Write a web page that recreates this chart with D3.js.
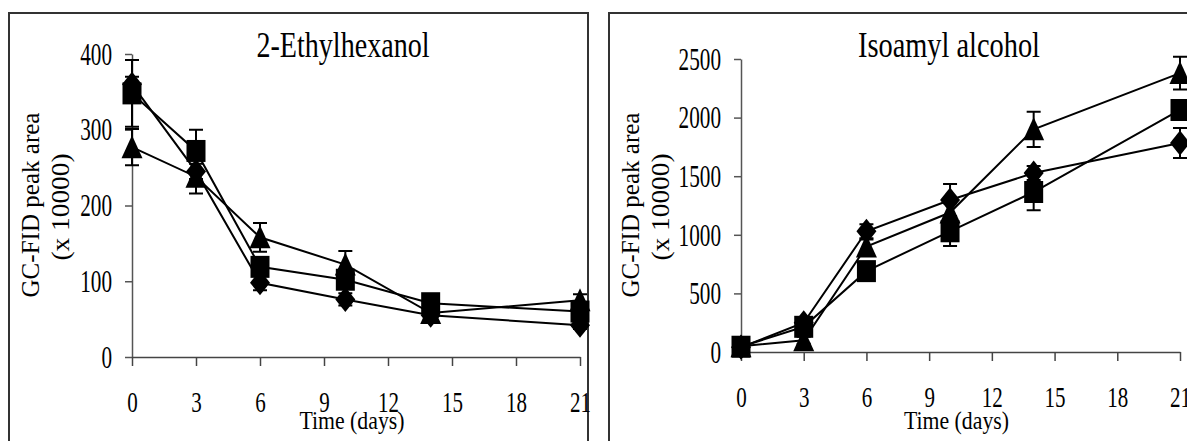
<!DOCTYPE html>
<html>
<head>
<meta charset="utf-8">
<script src="https://cdn.jsdelivr.net/npm/d3@7"></script>
<style>
  body { margin: 0; background: #fff; }
  svg { display: block; }
  text { font-family: "Liberation Serif", "Times New Roman", serif; fill: #000; }
</style>
</head>
<body>
<div id="chart"></div>
<script>
// sampling days (same for both panels)
const days = [0, 3, 6, 10, 14, 21];
const xTicks = [0, 3, 6, 9, 12, 15, 18, 21];

// 2-Ethylhexanol
const ethDiamond = [360, 245, 98, 76, 55, 42];
const ethDiamondErr = [10, 10, 10, 8, 5, 5];
const ethSquare = [348, 272, 119, 102, 71, 60];
const ethSquareErr = [44, 28, 10, 10, 8, 8];
const ethTriangle = [277, 238, 158, 122, 58, 75];
const ethTriangleErr = [24, 22, 19, 18, 5, 8];
const ethTicks = [0, 100, 200, 300, 400];

// Isoamyl alcohol
const isoDiamond = [40, 250, 1030, 1297, 1527, 1783];
const isoDiamondErr = [20, 30, 60, 136, 60, 128];
const isoSquare = [45, 215, 690, 1030, 1365, 2065];
const isoSquareErr = [20, 40, 50, 125, 155, 70];
const isoTriangle = [50, 100, 900, 1190, 1900, 2380];
const isoTriangleErr = [20, 30, 60, 80, 150, 140];
const isoTicks = [0, 500, 1000, 1500, 2000, 2500];

const W = 1187, H = 441;
const serif = "'Liberation Serif', 'Times New Roman', serif";
const svg = d3.select("#chart").append("svg")
    .attr("width", W).attr("height", H);

//marker shapes, centred on the point
function markerPath(shape) {
    if (shape === "square") return "M-9.5,-11L9.5,-11L9.5,11L-9.5,11Z";
    if (shape === "diamond") return "M0,-12.5L10,0L0,12.5L-10,0Z";
    return "M0,-12L10.5,11L-10.5,11Z";
}

function drawPanel(p) {
    //frame round the panel
    svg.append("rect")
        .attr("x", p.box[0]).attr("y", p.box[1])
        .attr("width", p.box[2]).attr("height", p.box[3])
        .attr("fill", "none").attr("stroke", "#333").attr("stroke-width", 2);

    const x = d3.scaleLinear().domain([0, 21]).range([p.x0, p.x1]);
    const y = d3.scaleLinear().domain([0, p.yMax]).range([p.y0, p.y1]);

    const g = svg.append("g");

    // y axis
    const ya = g.append("g")
        .attr("transform", "translate(" + p.x0 + ",0)")
        .call(d3.axisLeft(y).tickValues(p.yTicks).tickFormat(d3.format("d"))
            .tickSize(7).tickPadding(13).tickSizeOuter(0));
    ya.attr("font-family", null).attr("font-size", null);
    ya.select(".domain").attr("stroke", "#555").attr("stroke-width", 1.5);
    ya.selectAll(".tick line").attr("stroke", "#555").attr("stroke-width", 1.5);
    ya.selectAll("text")
        .style("font-family", serif).style("font-size", "31px")
        .attr("dy", "0.33em")
        .attr("textLength", d => String(d).length * 10.6)
        .attr("lengthAdjust", "spacingAndGlyphs");

    // x axis
    const xa = g.append("g")
        .attr("transform", "translate(0," + p.y0 + ")")
        .call(d3.axisBottom(x).tickValues(xTicks).tickSize(9).tickSizeOuter(0));
    xa.attr("font-family", null).attr("font-size", null);
    xa.select(".domain").attr("stroke", "#444").attr("stroke-width", 1.5);
    xa.selectAll(".tick line").attr("stroke", "#444").attr("stroke-width", 1.5);
    xa.selectAll("text")
        .style("font-family", serif).style("font-size", "30px")
        .attr("y", 55).attr("dy", 0)
        .attr("textLength", d => String(d).length * 10.5)
        .attr("lengthAdjust", "spacingAndGlyphs");

    // titles
    g.append("text")
        .attr("x", p.titleX).attr("y", 57)
        .attr("text-anchor", "middle")
        .style("font-family", serif).style("font-size", "35px")
        .attr("textLength", p.titleLen).attr("lengthAdjust", "spacingAndGlyphs")
        .text(p.title);

    g.append("text")
        .attr("x", (p.x0 + p.x1) / 2 - 4).attr("y", 429)
        .attr("text-anchor", "middle")
        .style("font-family", serif).style("font-size", "26px")
        .attr("textLength", 105).attr("lengthAdjust", "spacingAndGlyphs")
        .text("Time (days)");

    g.append("text")
        .attr("transform", "translate(" + (p.box[0] + 21) + ",205) rotate(-90)")
        .attr("text-anchor", "middle").attr("dominant-baseline", "central")
        .style("font-family", serif).style("font-size", "25px")
        .attr("textLength", 185).attr("lengthAdjust", "spacingAndGlyphs")
        .text("GC-FID peak area");
    g.append("text")
        .attr("transform", "translate(" + (p.box[0] + 51) + ",207) rotate(-90)")
        .attr("text-anchor", "middle").attr("dominant-baseline", "central")
        .style("font-family", serif).style("font-size", "25px")
        .attr("textLength", 107).attr("lengthAdjust", "spacingAndGlyphs")
        .text("(x 10000)");

    const line = d3.line().x(d => x(d.day)).y(d => y(d.v));

    p.series.forEach(s => {
        const pts = days.map((d, i) => ({day: d, v: s.values[i], e: s.err[i]}));
        const sg = g.append("g");

        // error bars (upper and lower)
        sg.selectAll(".err").data(pts).enter().append("path")
            .attr("class", "err")
            .attr("d", d => {
                const cx = x(d.day), t = y(d.v + d.e), b = y(d.v - d.e);
                return "M" + cx + "," + t + "V" + b +
                    "M" + (cx - 7) + "," + t + "H" + (cx + 7) +
                    "M" + (cx - 7) + "," + b + "H" + (cx + 7);
            })
            .attr("stroke", "#000").attr("stroke-width", 2).attr("fill", "none");

        sg.append("path").datum(pts)
            .attr("d", line)
            .attr("fill", "none").attr("stroke", "#000").attr("stroke-width", 2);

        sg.selectAll(".mk").data(pts).enter().append("path")
            .attr("class", "mk")
            .attr("transform", d => "translate(" + x(d.day) + "," + y(d.v) + ")")
            .attr("d", markerPath(s.shape))
            .attr("fill", "#000");
    });
}

drawPanel({
    box: [9, 13, 579, 500],
    x0: 132, x1: 580, y0: 357, y1: 54, yMax: 400, yTicks: ethTicks,
    title: "2-Ethylhexanol", titleX: 343, titleLen: 173,
    series: [
        {shape: "diamond", values: ethDiamond, err: ethDiamondErr},
        {shape: "square", values: ethSquare, err: ethSquareErr},
        {shape: "triangle", values: ethTriangle, err: ethTriangleErr}
    ]
});

drawPanel({
    box: [609, 13, 640, 500],
    x0: 741, x1: 1180, y0: 352, y1: 59, yMax: 2500, yTicks: isoTicks,
    title: "Isoamyl alcohol", titleX: 949, titleLen: 182,
    series: [
        {shape: "diamond", values: isoDiamond, err: isoDiamondErr},
        {shape: "square", values: isoSquare, err: isoSquareErr},
        {shape: "triangle", values: isoTriangle, err: isoTriangleErr}
    ]
});
</script>
</body>
</html>
